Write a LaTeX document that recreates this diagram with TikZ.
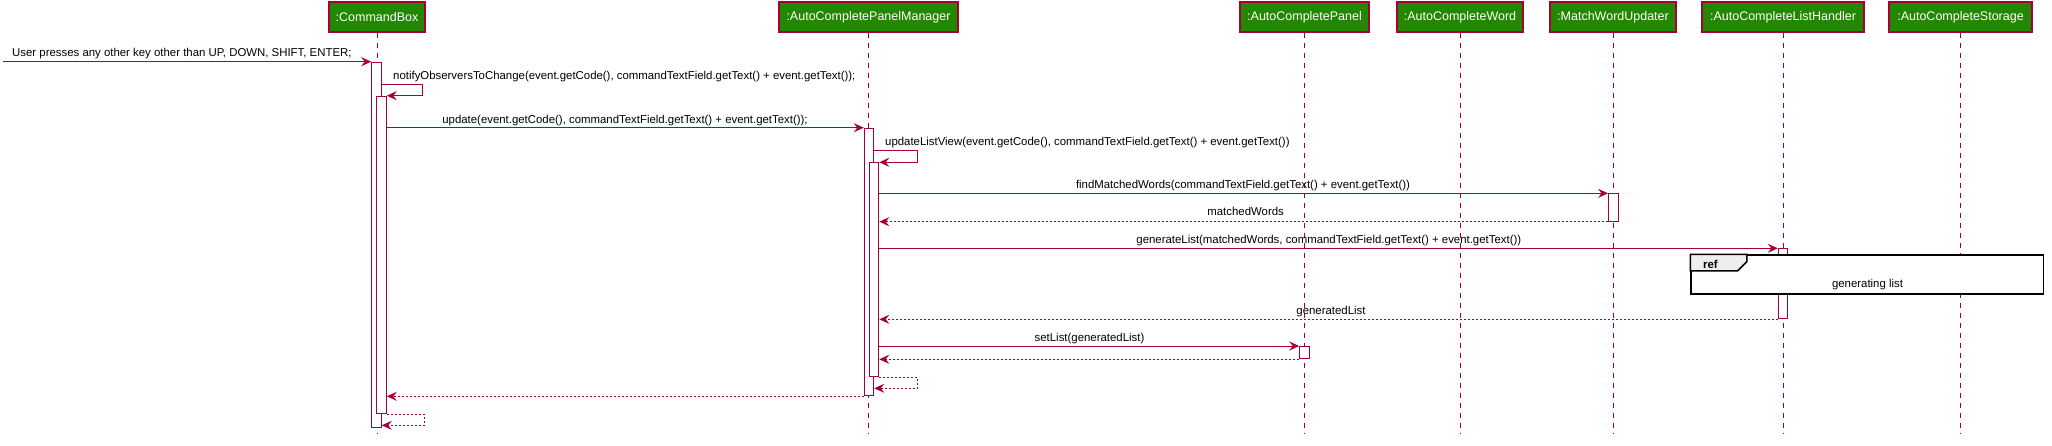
\documentclass[tikz,border=0pt]{standalone}
\usepackage{fontspec}
\setmainfont{Liberation Sans}
\usetikzlibrary{arrows.meta,calc}
\definecolor{crim}{HTML}{A80036}
\definecolor{pgreen}{RGB}{34,136,0}
\definecolor{tabgray}{HTML}{EEEEEE}
\begin{document}
\begin{tikzpicture}[x=1pt,y=-1pt,
  part/.style={draw=crim,line width=1.2pt,fill=pgreen,text=white,inner sep=0,minimum height=30pt,
    font=\fontsize{12.5}{14}\selectfont},
  life/.style={draw=crim,line width=1pt,dash pattern=on 5pt off 5pt},
  actbar/.style={draw=crim,fill=white,line width=1pt,minimum width=9.5pt,inner sep=0,anchor=north},
  msg/.style={draw=crim,line width=1pt,-{Stealth[length=10pt,width=9pt,inset=3.5pt]}},
  ret/.style={msg,dash pattern=on 2pt off 2pt},
  lbl/.style={font=\fontsize{11.4}{13}\selectfont,inner sep=0,text=black},
]
\useasboundingbox (0,0) rectangle (2052,445);
% participants
\node[part,minimum width=96pt] (cb) at (377,17) {:CommandBox};
\node[part,minimum width=179pt] (mg) at (868.5,17) {:AutoCompletePanelManager};
\node[part,minimum width=129pt] (ap) at (1304.5,17) {:AutoCompletePanel};
\node[part,minimum width=126pt] (aw) at (1460,17) {:AutoCompleteWord};
\node[part,minimum width=126pt] (mw) at (1613,17) {:MatchWordUpdater};
\node[part,minimum width=162pt] (lh) at (1783,17) {:AutoCompleteListHandler};
\node[part,minimum width=143pt] (st) at (1960.5,17) {:AutoCompleteStorage};
\coordinate (bottom) at (0,433);
\foreach \p in {cb,mg,ap,aw,mw,lh,st}{\draw[life] (\p.south) -- (\p.south |- bottom);}
% activation bars
\node[actbar,minimum height=365.6pt] (cbA) at (376.5,61.7) {};
\node[actbar,minimum height=317.6pt] (cbB) at (381.5,95.7) {};
\node[actbar,minimum height=267.6pt] (mgA) at (869,127.7) {};
\node[actbar,minimum height=214pt] (mgB) at (874,162.3) {};
\node[actbar,minimum height=27.4pt] (mwA) at (1613.3,193.3) {};
\node[actbar,minimum height=70pt] (lhA) at (1783,248.3) {};
\node[actbar,minimum height=12.3pt] (apA) at (1304.5,346) {};
% messages
\coordinate (user) at (3,61.7);
\draw[msg] (user) -- (cbA.north west);
\node[lbl,anchor=base west] (t1) at (12,56.7) {User presses any other key other than UP, DOWN, SHIFT, ENTER;};
\draw[msg] ($(cbA.north east)+(0,22.3)$) -- ++(41,0) |- (cbB.north east);
\node[lbl,anchor=base west] (t2) at (393,79) {notifyObserversToChange(event.getCode(), commandTextField.getText() + event.getText());};
\draw[msg] (cbB.east |- mgA.north) -- (mgA.north west);
\node[lbl,anchor=base] (t3) at (625,123.3) {update(event.getCode(), commandTextField.getText() + event.getText());};
\draw[msg] ($(mgA.north east)+(0,22.6)$) -- ++(43,0) |- (mgB.north east);
\node[lbl,anchor=base west] (t4) at (885,145.7) {updateListView(event.getCode(), commandTextField.getText() + event.getText())};
\draw[msg] (mgB.east |- mwA.north) -- (mwA.north west);
\node[lbl,anchor=base] (t5) at (1243,188.3) {findMatchedWords(commandTextField.getText() + event.getText())};
\draw[ret] (mwA.south west) -- (mgB.east |- mwA.south);
\node[lbl,anchor=base] (t6) at (1245.6,215.7) {matchedWords};
\draw[msg] (mgB.east |- lhA.north) -- (lhA.north west);
\node[lbl,anchor=base] (t7) at (1328.8,243.3) {generateList(matchedWords, commandTextField.getText() + event.getText())};
\draw[ret] (lhA.south west) -- (mgB.east |- lhA.south);
\node[lbl,anchor=base] (t8) at (1331,314) {generatedList};
\draw[msg] (mgB.east |- apA.north) -- (apA.north west);
\node[lbl,anchor=base] (t9) at (1089.5,341.7) {setList(generatedList)};
\draw[ret] (apA.south west) -- (mgB.east |- apA.south);
\draw[ret] (mgB.south east) -- ++(38.5,0) |- ($(mgA.south east)+(0,-8)$);
\draw[ret] (mgA.south west) -- (cbB.east |- mgA.south);
\draw[ret] (cbB.south east) -- ++(37.5,0) |- ($(cbA.south east)+(0,-3)$);
% ref frame
\node[draw=black,line width=1.5pt,fill=white,minimum width=352.3pt,minimum height=39pt,inner sep=0] (ref) at (1867.15,274.5) {};
\filldraw[draw=black,fill=tabgray,line width=1.5pt] (ref.north west) -- ++(56.7,0) -- ++(0,7.3) -- ++(-9.4,9.4) -- ++(-47.3,0) -- cycle;
\node[lbl,anchor=base west,font=\fontsize{11.4}{13}\selectfont\bfseries] (reft) at (1703,268.3) {ref};
\node[lbl,anchor=base] (refb) at (1867.5,287.3) {generating list};
\end{tikzpicture}
\end{document}
